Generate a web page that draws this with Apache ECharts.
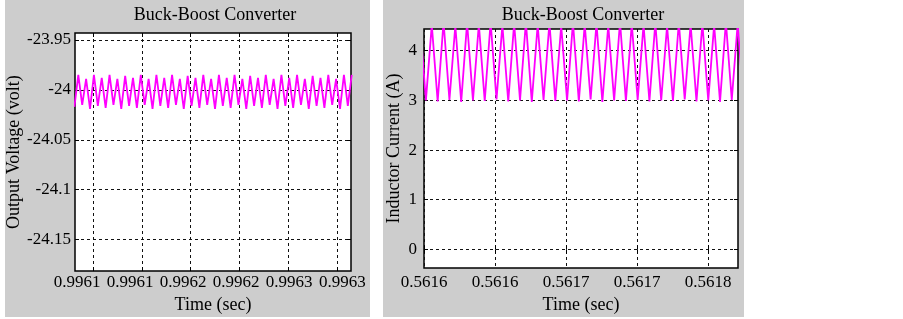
<!DOCTYPE html>
<html>
<head>
<meta charset="utf-8">
<style>
  html, body { margin: 0; padding: 0; background: #fff; }
  #chart { width: 903px; height: 319px; }
</style>
<script src="https://cdn.jsdelivr.net/npm/echarts@6/dist/echarts.min.js"></script>
</head>
<body>
<div id="chart"></div>
<script>
// 左图：输出电压
const timeTicksL = [0.99610, 0.99614, 0.99618, 0.99622, 0.99626, 0.99630]
const timeLabelPosL = [0.996087, 0.9961304, 0.9961739, 0.9962173, 0.9962608, 0.9963043]
const timeLabelsL = ['0.9961', '0.9961', '0.9962', '0.9962', '0.9963', '0.9963']
const voltTicks = [-24.15, -24.1, -24.05, -24, -23.95]
const voltLabels = ['-24.15', '-24.1', '-24.05', '-24', '-23.95']
const voltStart = 0.9960848
const voltStep = 0.0000032
const voltValues = [
  -24.017, -23.985, -24.015, -23.989, -24.019, -23.985, -24.016, -23.988, -24.018, -23.985, -24.015, -23.989,
  -24.019, -23.986, -24.016, -23.988, -24.018, -23.985, -24.015, -23.989, -24.019, -23.985, -24.016, -23.988,
  -24.018, -23.985, -24.015, -23.989, -24.019, -23.986, -24.016, -23.988, -24.018, -23.985, -24.015, -23.989,
  -24.019, -23.985, -24.016, -23.988, -24.018, -23.985, -24.015, -23.989, -24.019, -23.986, -24.016, -23.988,
  -24.018, -23.985, -24.015, -23.989, -24.019, -23.985, -24.016, -23.988, -24.018, -23.985, -24.015, -23.989,
  -24.019, -23.986, -24.016, -23.988, -24.018, -23.985, -24.015, -23.989, -24.019, -23.985, -24.016, -23.985
]

// 右图：电感电流
const timeTicksR = [0.56158, 0.56163, 0.56168, 0.56173, 0.56178]
const timeLabelsR = ['0.5616', '0.5616', '0.5617', '0.5617', '0.5618']
const currTicks = [0, 1, 2, 3, 4]
const currLabels = ['0', '1', '2', '3', '4']
const currStart = 0.5615772
const currStep = 0.00000414
const currValues = [
  4.55, 3.00, 4.52, 2.98, 4.58, 3.01, 4.50, 2.97, 4.56, 3.00, 4.53, 2.99, 4.57, 3.02,
  4.51, 2.98, 4.55, 3.00, 4.58, 2.97, 4.52, 3.01, 4.56, 2.99, 4.50, 3.00, 4.57, 2.98,
  4.53, 3.02, 4.55, 2.97, 4.51, 3.00, 4.58, 2.99, 4.54, 3.01, 4.52, 2.98, 4.56, 3.00,
  4.50, 2.99, 4.57, 3.02, 4.53, 2.98, 4.55, 3.00, 4.52, 2.97, 4.58, 3.01, 4.54, 2.99
]

const font = 'Liberation Serif'
const textStyle = { fontFamily: font, fontSize: 17, color: '#000' }
const nameStyle = { fontFamily: font, fontSize: 18, color: '#000' }
const gridLine = { show: true, lineStyle: { color: '#111', width: 1, type: [3, 3] } }

// 按位置找标签
function pick(positions, labels) {
  return function (v) {
    let best = 0
    positions.forEach((p, i) => {
      if (Math.abs(p - v) < Math.abs(positions[best] - v)) best = i
    })
    return labels[best]
  }
}

function series(start, step, values, xi, yi) {
  return {
    type: 'line',
    xAxisIndex: xi,
    yAxisIndex: yi,
    data: values.map((v, i) => [start + i * step, v]),
    showSymbol: false,
    lineStyle: { color: '#ff00ff', width: 1.8 },
    itemStyle: { color: '#ff00ff' },
    clip: true
  }
}

let myChart = echarts.init(document.querySelector('#chart'))

const option = {
  animation: false,
  backgroundColor: '#fff',
  graphic: [
    { type: 'rect', shape: { x: 5, y: 0, width: 365, height: 317 }, style: { fill: '#cdcdcd' }, z: -10 },
    { type: 'rect', shape: { x: 383, y: 0, width: 361, height: 317 }, style: { fill: '#cdcdcd' }, z: -10 }
  ],
  title: [
    { text: 'Buck-Boost Converter', left: 210, top: 1, textAlign: 'center', textStyle: { ...nameStyle, fontWeight: 'normal' } },
    { text: 'Buck-Boost Converter', left: 578, top: 1, textAlign: 'center', textStyle: { ...nameStyle, fontWeight: 'normal' } }
  ],
  grid: [
    { left: 75, top: 33, width: 276, height: 243, show: true, backgroundColor: '#fff', borderColor: '#000', borderWidth: 1.5 },
    { left: 424, top: 29, width: 314, height: 243, show: true, backgroundColor: '#fff', borderColor: '#000', borderWidth: 1.5 }
  ],
  xAxis: [
    {
      gridIndex: 0, type: 'value', min: 0.9960853, max: 0.9963114,
      name: 'Time (sec)', nameLocation: 'middle', nameGap: 14, nameTextStyle: nameStyle,
      axisLine: { show: false },
      axisTick: { show: true, inside: true, length: 4, customValues: timeTicksL, lineStyle: { color: '#000' } },
      axisLabel: { ...textStyle, margin: 3, customValues: timeLabelPosL, formatter: pick(timeLabelPosL, timeLabelsL) },
      splitLine: { ...gridLine, customValues: timeTicksL }
    },
    {
      gridIndex: 0, type: 'value', position: 'top', min: 0.9960853, max: 0.9963114,
      axisLine: { show: false },
      axisTick: { show: true, inside: true, length: 4, customValues: timeTicksL, lineStyle: { color: '#000' } },
      axisLabel: { show: false }, splitLine: { show: false }
    },
    {
      gridIndex: 1, type: 'value', min: 0.56158, max: 0.561801,
      name: 'Time (sec)', nameLocation: 'middle', nameGap: 22, nameTextStyle: nameStyle,
      axisLine: { show: false },
      axisTick: { show: true, inside: true, length: 4, customValues: timeTicksR, lineStyle: { color: '#000' } },
      axisLabel: { ...textStyle, margin: 6, customValues: timeTicksR, formatter: pick(timeTicksR, timeLabelsR) },
      splitLine: { ...gridLine, customValues: timeTicksR }
    },
    {
      gridIndex: 1, type: 'value', position: 'top', min: 0.56158, max: 0.561801,
      axisLine: { show: false },
      axisTick: { show: true, inside: true, length: 4, customValues: timeTicksR, lineStyle: { color: '#000' } },
      axisLabel: { show: false }, splitLine: { show: false }
    }
  ],
  yAxis: [
    {
      gridIndex: 0, type: 'value', min: -24.1815, max: -23.943,
      name: 'Output Voltage (volt)', nameLocation: 'middle', nameGap: 46, nameTextStyle: nameStyle,
      axisLine: { show: false },
      axisTick: { show: true, inside: true, length: 4, customValues: voltTicks, lineStyle: { color: '#000' } },
      axisLabel: { ...textStyle, margin: 4, customValues: voltTicks, formatter: pick(voltTicks, voltLabels) },
      splitLine: { ...gridLine, customValues: voltTicks }
    },
    {
      gridIndex: 0, type: 'value', position: 'right', min: -24.1815, max: -23.943,
      axisLine: { show: false },
      axisTick: { show: true, inside: true, length: 4, customValues: voltTicks, lineStyle: { color: '#000' } },
      axisLabel: { show: false }, splitLine: { show: false }
    },
    {
      gridIndex: 1, type: 'value', min: -0.376, max: 4.436,
      name: 'Inductor Current (A)', nameLocation: 'middle', nameGap: 21, nameTextStyle: nameStyle,
      axisLine: { show: false },
      axisTick: { show: true, inside: true, length: 4, customValues: currTicks, lineStyle: { color: '#000' } },
      axisLabel: { ...textStyle, margin: 7, customValues: currTicks, formatter: pick(currTicks, currLabels) },
      splitLine: { ...gridLine, customValues: currTicks }
    },
    {
      gridIndex: 1, type: 'value', position: 'right', min: -0.376, max: 4.436,
      axisLine: { show: false },
      axisTick: { show: true, inside: true, length: 4, customValues: currTicks, lineStyle: { color: '#000' } },
      axisLabel: { show: false }, splitLine: { show: false }
    }
  ],
  series: [
    series(voltStart, voltStep, voltValues, 0, 0),
    series(currStart, currStep, currValues, 2, 2)
  ]
}

myChart.setOption(option)
</script>
</body>
</html>
